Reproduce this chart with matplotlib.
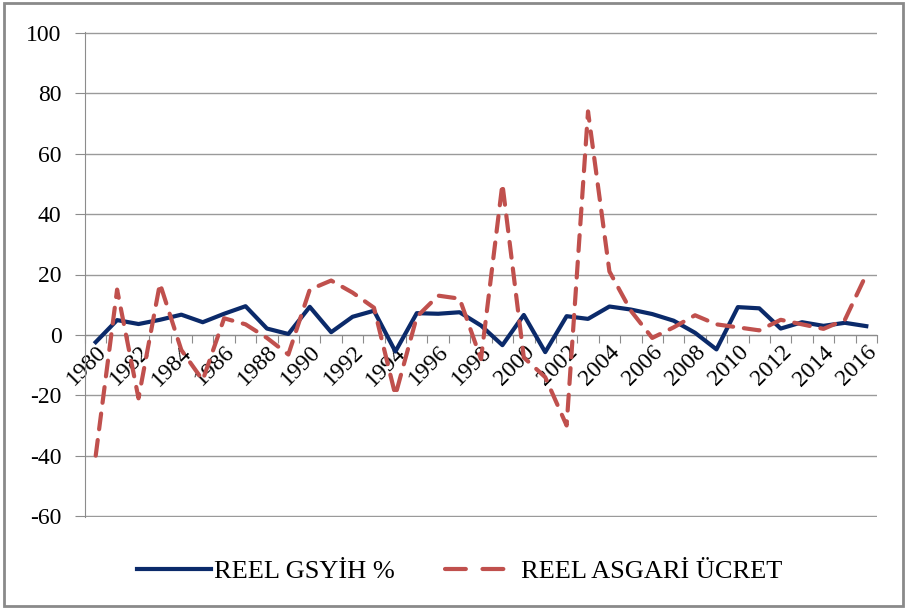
import matplotlib
matplotlib.use('Agg')
import matplotlib.pyplot as plt
import numpy as np
from matplotlib.lines import Line2D
from matplotlib.patches import Rectangle

plt.rcParams['font.family'] = ['Liberation Serif', 'DejaVu Serif']
plt.rcParams['axes.unicode_minus'] = False

years = list(range(1980, 2017))
gdp = [-2.4, 4.9, 3.6, 5.0, 6.7, 4.2, 7.0, 9.5, 2.1, 0.3,
       9.3, 0.9, 6.0, 8.0, -5.5, 7.2, 7.0, 7.5, 3.1, -3.4,
       6.6, -5.7, 6.2, 5.3, 9.4, 8.4, 6.9, 4.7, 0.7, -4.8,
       9.2, 8.8, 2.1, 4.2, 3.0, 4.0, 2.9]
wage = [-40, 15, -21, 17, -5, -15, 5.5, 3.5, -1, -6.5,
        15, 18, 14, 9, -20, 6, 13, 12, -8, 50,
        -7.5, -14, -30, 74, 21, 8, -1, 2.5, 6.5, 3.5,
        2.5, 1.5, 5, 3.5, 2, 5, 20]
labels = ['REEL GSYİH %', 'REEL ASGARİ ÜCRET']

blue = '#0b2a6a'
red = '#c0504d'

fig = plt.figure(figsize=(9.07, 6.09), dpi=100)
ax = fig.add_axes([85/907, 1-517/609, 792/907, 485/609])

x = np.arange(len(years))
ax.plot(x, gdp, color=blue, lw=3, zorder=3)
ax.plot(x, wage, color=red, lw=3, dashes=(3.8, 2.6),
        dash_capstyle='round', zorder=4)

ax.set_xlim(-0.5, len(years) - 0.5)
ax.set_ylim(-60.3, 100.3)
ax.set_yticks(np.arange(-60, 101, 20))
ax.grid(axis='y', color='#9a9a9a', lw=1)
ax.set_axisbelow(True)

grey = '#8c8c8c'
for s in ['top', 'right']:
    ax.spines[s].set_visible(False)
ax.spines['left'].set_color(grey)
ax.spines['bottom'].set_color(grey)
ax.spines['bottom'].set_position(('data', 0))

# tick marks between categories, labels every second year
ax.set_xticks(np.arange(len(years) + 1) - 0.5)
ax.set_xticklabels([])
ax.tick_params(axis='x', which='major', direction='out', length=6, color=grey)
ax.set_xticks(x[::2], minor=True)
ax.set_xticklabels([str(y) for y in years[::2]], minor=True,
                   rotation=45, ha='right', rotation_mode='anchor', fontsize=17)
ax.tick_params(axis='x', which='minor', length=0, pad=5)
ax.tick_params(axis='y', direction='out', length=7, color=grey, labelsize=17, pad=10)

# legend proxies (red one with a longer dash so two dashes show, like Excel)
h1 = Line2D([], [], color=blue, lw=3)
h2 = Line2D([], [], color=red, lw=3, linestyle=(0, (5, 4)), dash_capstyle='round')
fig.legend([h1, h2], labels, loc='center', bbox_to_anchor=(460/907, 1-571/609),
           ncol=2, frameon=False, fontsize=19, handlelength=2.8,
           handletextpad=0.1, columnspacing=1.9)

fig.patches.append(Rectangle((4/907, 3/609), 899/907, 603/609,
                             transform=fig.transFigure, fill=False,
                             edgecolor='#8a8a8a', lw=2))

fig.savefig('out.png', dpi=100)
